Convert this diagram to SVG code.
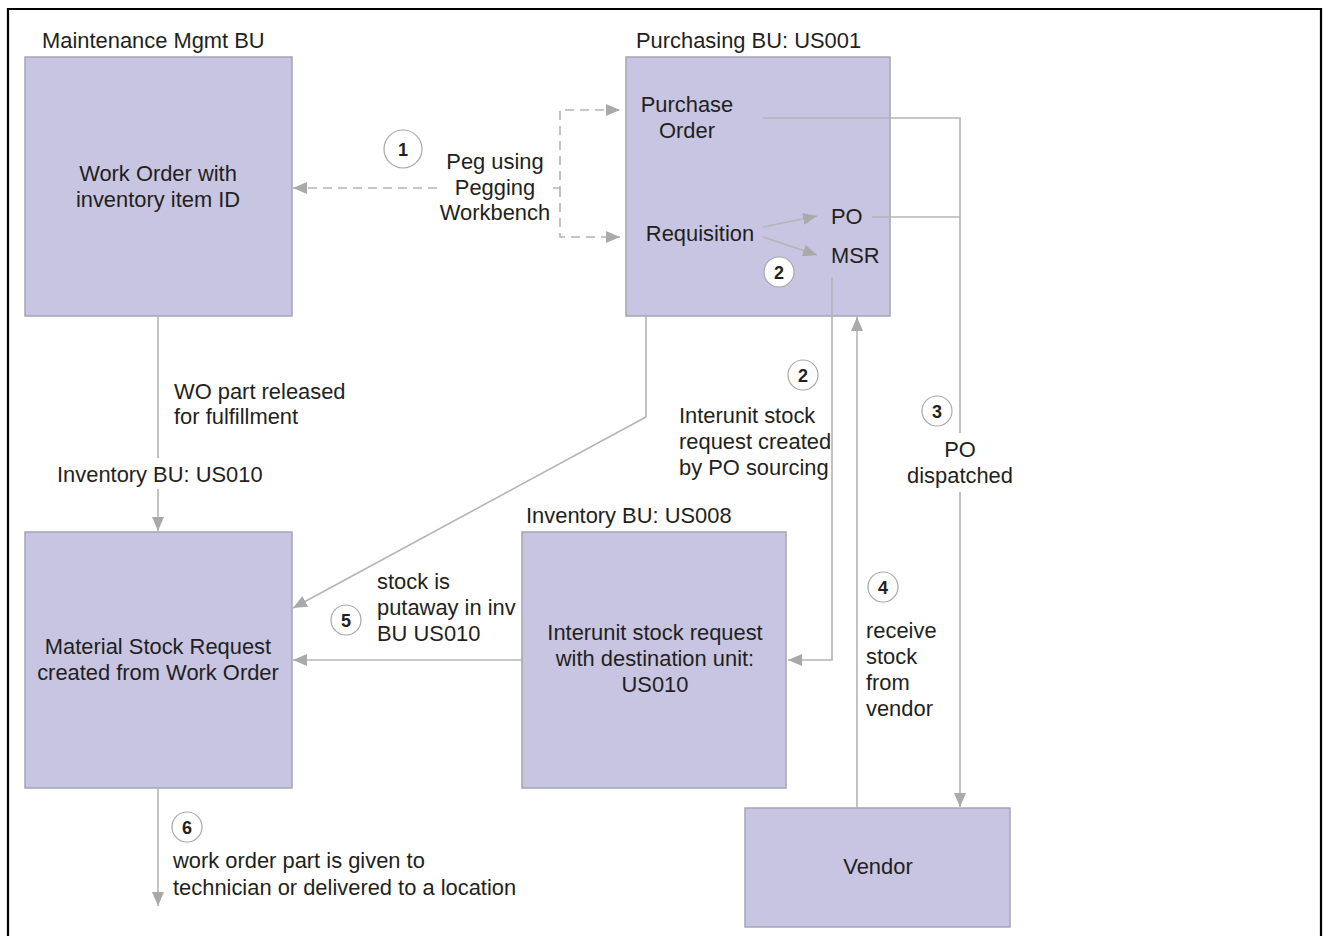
<svg xmlns="http://www.w3.org/2000/svg" width="1326" height="936" viewBox="0 0 1326 936">
<style>
.box{fill:#c8c5e2;stroke:#a5a5b5;stroke-width:1.5}
.t{font-family:"Liberation Sans",Arial,sans-serif;font-size:21.9px;fill:#231f20}
.m{text-anchor:middle}
.ln{fill:none;stroke:#b4b4b4;stroke-width:1.6}
.ds{fill:none;stroke:#b4b4b4;stroke-width:1.6;stroke-dasharray:9 6}
.c{fill:#fff;stroke:#a8a8a8;stroke-width:1.2}
.n{font-family:"Liberation Sans",Arial,sans-serif;font-size:18px;font-weight:bold;fill:#231f20;text-anchor:middle}
</style>
<defs>
<marker id="ah" viewBox="0 0 14 12" refX="14" refY="6" markerWidth="14" markerHeight="12" markerUnits="userSpaceOnUse" orient="auto">
<path d="M0,0 L14,6 L0,12 Z" fill="#a9a9a9"/>
</marker>
</defs>
<rect width="1326" height="936" fill="#fff"/>
<path d="M8,936 V9 H1321 V936" fill="none" stroke="#000" stroke-width="2.2"/>

<g id="work-order">
<text class="t" x="42" y="48">Maintenance Mgmt BU</text>
<rect class="box" x="25" y="57" width="267" height="259"/>
<text class="t m" x="158" y="181">Work Order with</text>
<text class="t m" x="158" y="207">inventory item ID</text>
</g>

<g id="purchasing">
<text class="t" x="636" y="48">Purchasing BU: US001</text>
<rect class="box" x="626" y="57" width="264" height="259"/>
<text class="t m" x="687" y="112">Purchase</text>
<text class="t m" x="687" y="138">Order</text>
<text class="t m" x="700" y="241">Requisition</text>
<text class="t" x="831" y="224">PO</text>
<text class="t" x="831" y="263">MSR</text>
</g>

<g id="material-stock-request">
<text class="t" x="57" y="482">Inventory BU: US010</text>
<rect class="box" x="25" y="532" width="267" height="256"/>
<text class="t m" x="158" y="654">Material Stock Request</text>
<text class="t m" x="158" y="680">created from Work Order</text>
</g>

<g id="interunit">
<text class="t" x="526" y="523">Inventory BU: US008</text>
<rect class="box" x="522" y="532" width="264" height="256"/>
<text class="t m" x="655" y="640">Interunit stock request</text>
<text class="t m" x="655" y="666">with destination unit:</text>
<text class="t m" x="655" y="692">US010</text>
</g>

<g id="vendor">
<rect class="box" x="745" y="808" width="265" height="119"/>
<text class="t m" x="878" y="874">Vendor</text>
</g>

<g id="connectors">
<path class="ds" d="M437,188 H293" marker-end="url(#ah)"/>
<path class="ds" d="M553,188 H560 V110 H620" marker-end="url(#ah)"/>
<path class="ds" d="M560,188 V237 H620" marker-end="url(#ah)"/>
<path class="ln" d="M763,227 L817,216" marker-end="url(#ah)"/>
<path class="ln" d="M763,237 L817,255" marker-end="url(#ah)"/>
<path class="ln" d="M763,118 H960 V433"/>
<path class="ln" d="M872,217 H960"/>
<path class="ln" d="M960,492 V807" marker-end="url(#ah)"/>
<path class="ln" d="M832,277 V660 H788" marker-end="url(#ah)"/>
<path class="ln" d="M857,808 V317" marker-end="url(#ah)"/>
<path class="ln" d="M646,316 V417 L293,608" marker-end="url(#ah)"/>
<path class="ln" d="M522,660 H293" marker-end="url(#ah)"/>
<path class="ln" d="M158,316 V458"/>
<path class="ln" d="M158,489 V531" marker-end="url(#ah)"/>
<path class="ln" d="M158,788 V906" marker-end="url(#ah)"/>
</g>

<g id="labels">
<circle class="c" cx="403" cy="149" r="19"/>
<text class="n" x="403" y="156">1</text>
<text class="t m" x="495" y="169">Peg using</text>
<text class="t m" x="495" y="195">Pegging</text>
<text class="t m" x="495" y="220">Workbench</text>

<circle class="c" cx="779" cy="272" r="15"/>
<text class="n" x="779" y="279">2</text>

<circle class="c" cx="803" cy="375" r="15"/>
<text class="n" x="803" y="382">2</text>
<text class="t" x="679" y="423">Interunit stock</text>
<text class="t" x="679" y="449">request created</text>
<text class="t" x="679" y="475">by PO sourcing</text>

<circle class="c" cx="937" cy="411" r="15"/>
<text class="n" x="937" y="418">3</text>
<text class="t m" x="960" y="457">PO</text>
<text class="t m" x="960" y="483">dispatched</text>

<circle class="c" cx="883" cy="587" r="15"/>
<text class="n" x="883" y="594">4</text>
<text class="t" x="866" y="638">receive</text>
<text class="t" x="866" y="664">stock</text>
<text class="t" x="866" y="690">from</text>
<text class="t" x="866" y="716">vendor</text>

<circle class="c" cx="346" cy="620" r="15"/>
<text class="n" x="346" y="627">5</text>
<text class="t" x="377" y="589">stock is</text>
<text class="t" x="377" y="615">putaway in inv</text>
<text class="t" x="377" y="641">BU US010</text>

<text class="t" x="174" y="399">WO part released</text>
<text class="t" x="174" y="424">for fulfillment</text>

<circle class="c" cx="187" cy="827" r="15"/>
<text class="n" x="187" y="834">6</text>
<text class="t" x="173" y="868">work order part is given to</text>
<text class="t" x="173" y="895">technician or delivered to a location</text>
</g>
</svg>
